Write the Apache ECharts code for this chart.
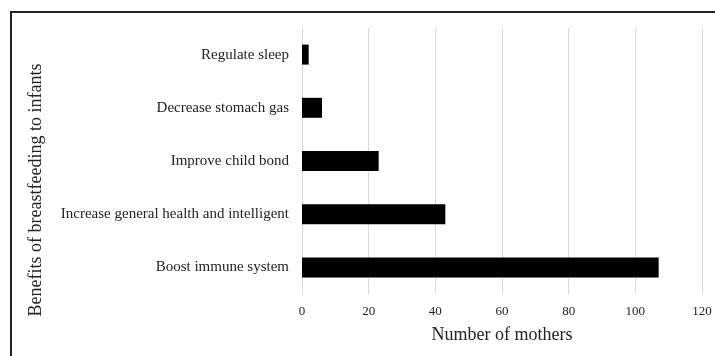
<!DOCTYPE html>
<html>
<head>
<meta charset="utf-8">
<script src="https://cdn.jsdelivr.net/npm/echarts@6/dist/echarts.min.js"></script>
<style>html,body{margin:0;padding:0;background:#fff}#c{width:715px;height:356px}</style>
</head>
<body>
<div id="c"></div>
<script>
var categories = ["Boost immune system", "Increase general health and intelligent", "Improve child bond", "Decrease stomach gas", "Regulate sleep"];
var mothers = [107, 43, 23, 6, 2];
var xTicks = [0, 20, 40, 60, 80, 100, 120];

var font = "'Liberation Serif', 'Times New Roman', serif";
var chart = echarts.init(document.getElementById('c'), null, {renderer: 'canvas'});
chart.setOption({
  animation: false,
  backgroundColor: '#fff',
  grid: {left: 302, right: 13, top: 28, bottom: 62, containLabel: false},
  xAxis: {
    type: 'value',
    min: xTicks[0], max: xTicks[xTicks.length - 1], interval: 20,
    name: 'Number of mothers',
    nameLocation: 'middle',
    nameGap: 32,
    nameTextStyle: {fontFamily: font, fontSize: 18, color: '#222'},
    axisLine: {show: false},
    axisTick: {show: false},
    axisLabel: {fontFamily: font, fontSize: 13, color: '#222', margin: 11},
    splitLine: {show: true, lineStyle: {color: '#d9d9d9', width: 1}}
  },
  yAxis: {
    type: 'category',
    data: categories,
    axisLine: {show: true, lineStyle: {color: '#d9d9d9', width: 1}},
    axisTick: {show: false},
    axisLabel: {fontFamily: font, fontSize: 15, color: '#222', margin: 13},
    splitLine: {show: false}
  },
  series: [{
    type: 'bar',
    data: mothers,
    barWidth: 20,
    itemStyle: {color: '#000'}
  }],
  graphic: [
    {type: 'rect', shape: {x: 11, y: 12, width: 800, height: 400}, style: {fill: null, stroke: '#222', lineWidth: 2}, silent: true},
    {type: 'text', x: 36, y: 190, rotation: Math.PI / 2,
     style: {text: 'Benefits of breastfeeding to infants', font: '18px ' + font, fill: '#222', textAlign: 'center', textVerticalAlign: 'middle'}}
  ]
});
</script>
</body>
</html>
